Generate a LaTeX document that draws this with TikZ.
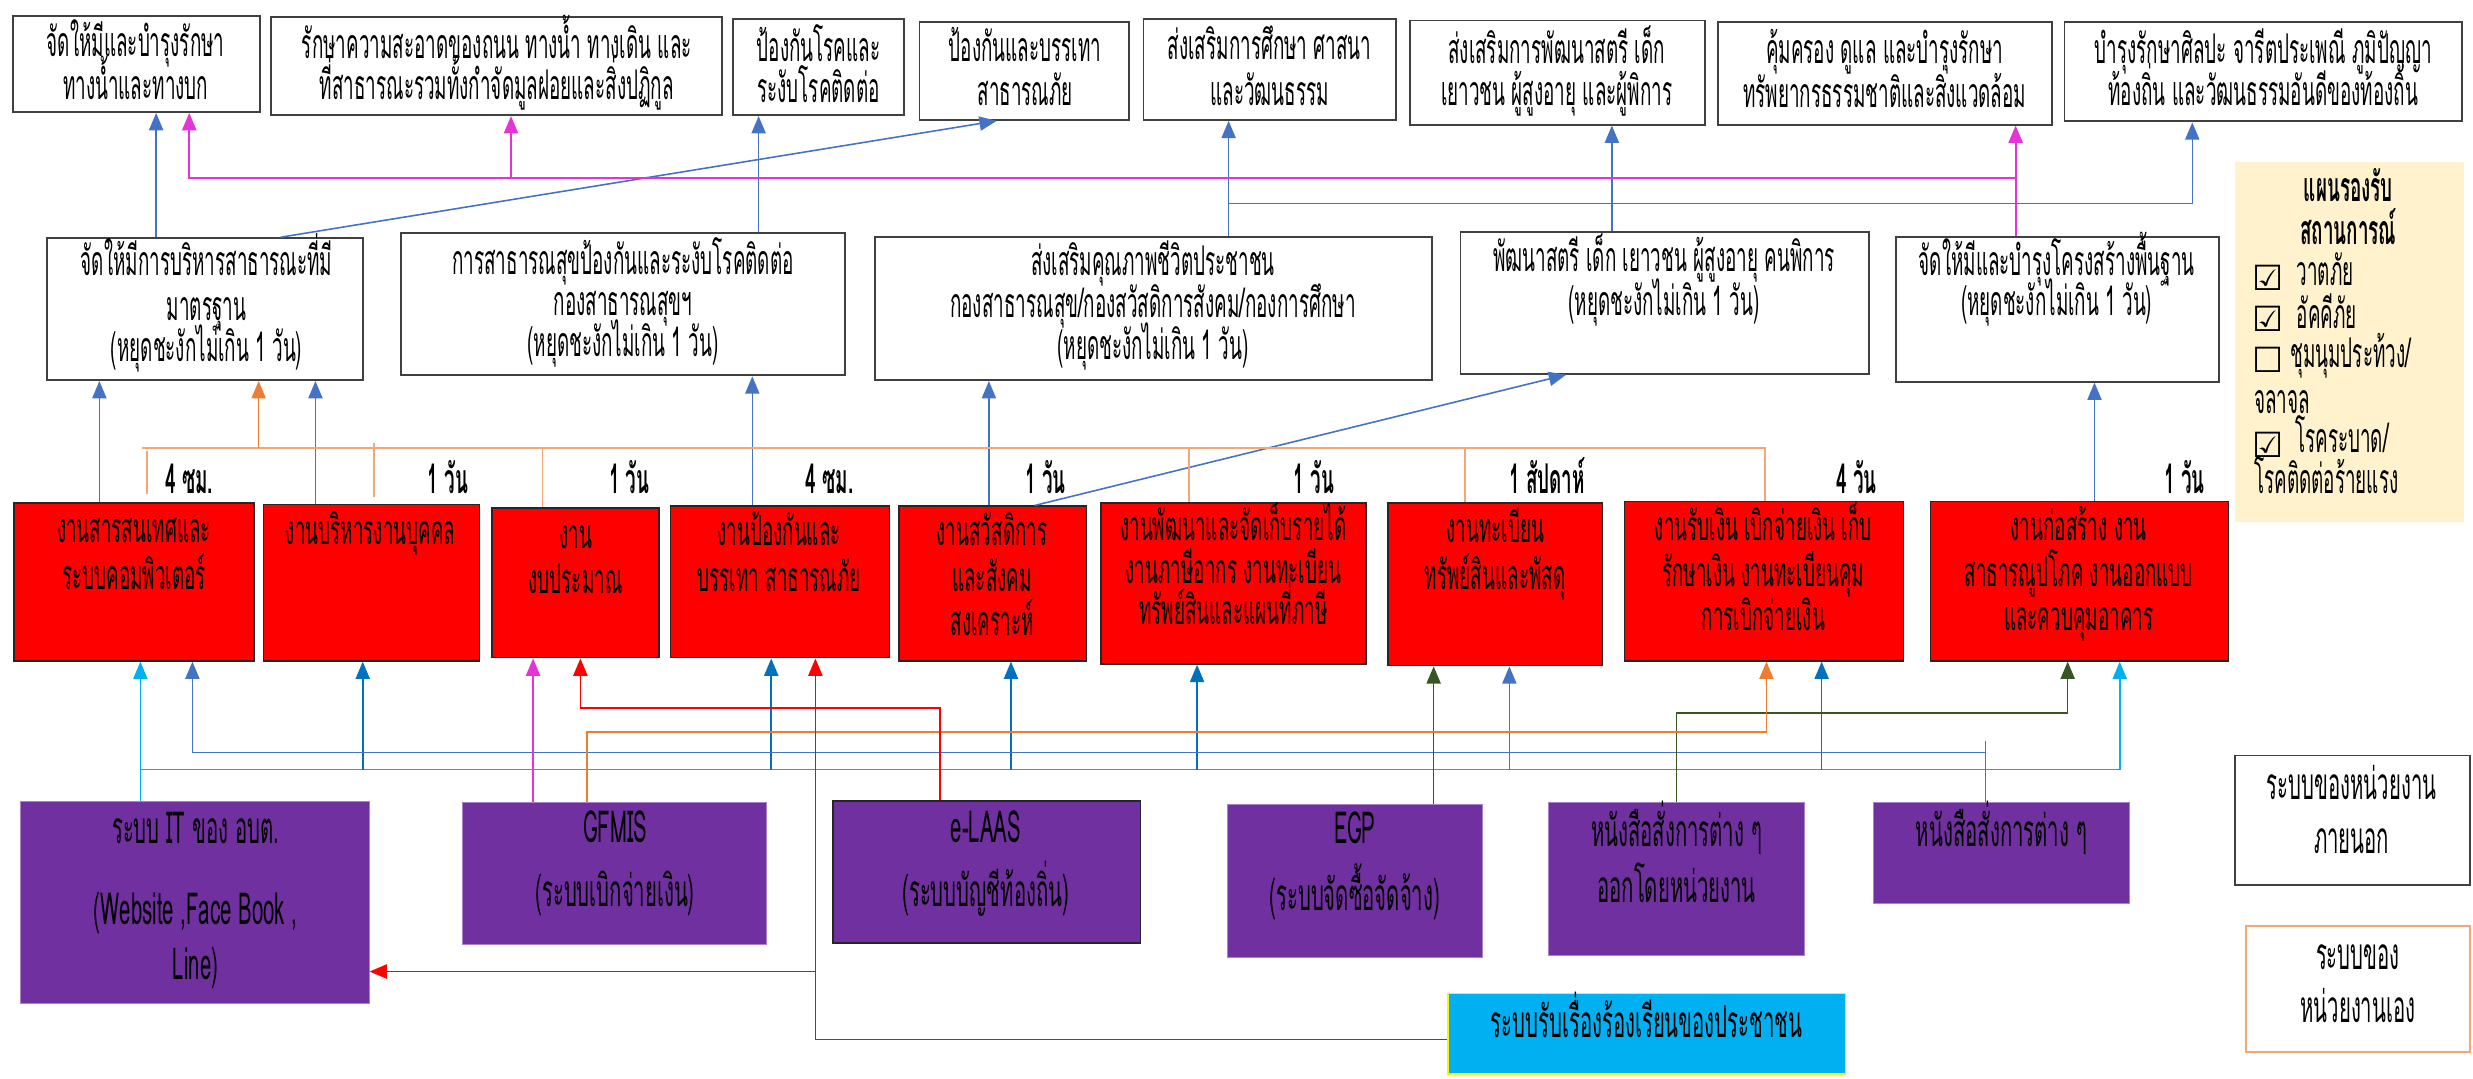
\documentclass[tikz,border=0pt]{standalone}
\usepackage{fontspec}
\newfontfamily\thai[Script=Thai,FakeStretch=0.46]{Loma}
\newfontfamily\djv{DejaVu Sans}
\usetikzlibrary{arrows.meta,fit}
\definecolor{ablue}{HTML}{4472C4}
\definecolor{dblue}{HTML}{0070C0}
\definecolor{cyanC}{HTML}{00B0F0}
\definecolor{pinkC}{HTML}{E633D6}
\definecolor{orangeL}{HTML}{F4A772}
\definecolor{orangeC}{HTML}{ED7D31}
\definecolor{oliveC}{HTML}{375623}
\definecolor{greenC}{HTML}{00B050}
\definecolor{purpleC}{HTML}{7030A0}
\definecolor{yellowC}{HTML}{FFF2CC}
\newcommand\tline[4]{\node[#1] (#2) at (#3) {#4};}
\tikzset{
  wbox/.style={draw=black!75, line width=1.2pt, inner sep=0pt},
  rbox/.style={draw=black!85, fill=red, line width=1pt, inner sep=0pt},
  pbox/.style={draw=purpleC!60!white, fill=purpleC, line width=0.6pt, inner sep=0pt},
  tx/.style={anchor=base, inner sep=0pt, font=\thai\fontsize{26}{30}\selectfont},
  txb/.style={anchor=base, inner sep=0pt, font=\thai\bfseries\fontsize{26}{30}\selectfont},
  txp/.style={anchor=base, inner sep=0pt, font=\thai\fontsize{28}{32}\selectfont},
  txl/.style={anchor=base west, inner sep=0pt, font=\thai\fontsize{26}{30}\selectfont},
  chk/.style={anchor=base west, inner sep=0pt, font=\djv\fontsize{22}{24}\selectfont},
  tip/.style={-{Triangle[length=11pt,width=9pt]}},
  barrow/.style={tip, draw=ablue, line width=1pt},
  darrow/.style={tip, draw=dblue, line width=1pt},
  carrow/.style={tip, draw=cyanC, line width=1pt},
  parrow/.style={tip, draw=pinkC, line width=1.1pt},
  oarrow/.style={tip, draw=orangeC, line width=1pt},
  rarrow/.style={tip, draw=red, line width=1pt},
  garrow/.style={tip, draw=oliveC, line width=1pt},
  oline/.style={draw=orangeL, line width=1.1pt},
  gline/.style={draw=greenC, line width=0.9pt},
}
\begin{document}
\begin{tikzpicture}[x=1pt,y=-1pt]
\useasboundingbox (0,0) rectangle (1568,684);

% ---------- top row ----------
\node[wbox, fit={(8,10) (165,71)}] (t1) {};
\node[wbox, fit={(172,11) (458,73)}] (t2) {};
\node[wbox, fit={(465,12) (573,73)}] (t3) {};
\node[wbox, fit={(583,14) (716,76)}] (t4) {};
\node[wbox, fit={(725,12) (885,76)}] (t5) {};
\node[wbox, fit={(894,13) (1081,79)}] (t6) {};
\node[wbox, fit={(1089,14) (1301,79)}] (t7) {};
\node[wbox, fit={(1309,14) (1561,77)}] (t8) {};
\tline{tx}{t1a}{86,36}{จัดให้มีและบำรุงรักษา}
\tline{tx}{t1b}{86,63}{ทางน้ำและทางบก}
\tline{tx}{t2a}{315,37}{รักษาความสะอาดของถนน ทางน้ำ ทางเดิน และ}
\tline{tx}{t2b}{315,63}{ที่สาธารณะรวมทั้งกำจัดมูลฝอยและสิ่งปฏิกูล}
\tline{tx}{t3a}{519,39}{ป้องกันโรคและ}
\tline{tx}{t3b}{519,65}{ระงับโรคติดต่อ}
\tline{tx}{t4a}{650,39}{ป้องกันและบรรเทา}
\tline{tx}{t4b}{650,67}{สาธารณภัย}
\tline{tx}{t5a}{805,38}{ส่งเสริมการศึกษา ศาสนา}
\tline{tx}{t5b}{805,67}{และวัฒนธรรม}
\tline{tx}{t6a}{987,40}{ส่งเสริมการพัฒนาสตรี เด็ก}
\tline{tx}{t6b}{987,67}{เยาวชน ผู้สูงอายุ และผู้พิการ}
\tline{tx}{t7a}{1195,40}{คุ้มครอง ดูแล และบำรุงรักษา}
\tline{tx}{t7b}{1195,68}{ทรัพยากรธรรมชาติและสิ่งแวดล้อม}
\tline{tx}{t8a}{1435,40}{บำรุงรักษาศิลปะ จารีตประเพณี ภูมิปัญญา}
\tline{tx}{t8b}{1435,67}{ท้องถิ่น และวัฒนธรรมอันดีของท้องถิ่น}

% ---------- legend (yellow) ----------
\node[fill=yellowC, inner sep=0pt, fit={(1417,103) (1562,331)}] (lg) {};
\tline{txb}{lg1}{1489,128}{แผนรองรับ}
\tline{txb}{lg2}{1489,155}{สถานการณ์}
\tline{chk}{c1}{1428,184}{☑}
\tline{txl}{lg3}{1456,181}{วาตภัย}
\tline{chk}{c2}{1428,210}{☑}
\tline{txl}{lg4}{1456,208}{อัคคีภัย}
\tline{chk}{c3}{1428,236}{☐}
\tline{txl}{lg5}{1452,233}{ชุมนุมประท้วง/}
\tline{txl}{lg6}{1429,262}{จลาจล}
\tline{chk}{c4}{1428,290}{☑}
\tline{txl}{lg7}{1455,287}{โรคระบาด/}
\tline{txl}{lg8}{1429,313}{โรคติดต่อร้ายแรง}

% ---------- middle row ----------
\node[wbox, fit={(30,151) (230,241)}] (m1) {};
\node[wbox, fit={(254,148) (536,238)}] (m2) {};
\node[wbox, fit={(555,150) (908,241)}] (m3) {};
\node[wbox, fit={(926,147) (1185,237)}] (m4) {};
\node[wbox, fit={(1202,150) (1407,242)}] (m5) {};
\tline{tx}{m1a}{131,175}{จัดให้มีการบริหารสาธารณะที่มี}
\tline{tx}{m1b}{131,203}{มาตรฐาน}
\tline{tx}{m1c}{131,229}{(หยุดชะงักไม่เกิน 1 วัน)}
\tline{tx}{m2a}{395,174}{การสาธารณสุขป้องกันและระงับโรคติดต่อ}
\tline{tx}{m2b}{395,200}{กองสาธารณสุขฯ}
\tline{tx}{m2c}{395,226}{(หยุดชะงักไม่เกิน 1 วัน)}
\tline{tx}{m3a}{731,175}{ส่งเสริมคุณภาพชีวิตประชาชน}
\tline{tx}{m3b}{731,201}{กองสาธารณสุข/กองสวัสดิการสังคม/กองการศึกษา}
\tline{tx}{m3c}{731,228}{(หยุดชะงักไม่เกิน 1 วัน)}
\tline{tx}{m4a}{1055,172}{พัฒนาสตรี เด็ก เยาวชน ผู้สูงอายุ คนพิการ}
\tline{tx}{m4b}{1055,200}{(หยุดชะงักไม่เกิน 1 วัน)}
\tline{tx}{m5a}{1304,175}{จัดให้มีและบำรุงโครงสร้างพื้นฐาน}
\tline{tx}{m5b}{1304,200}{(หยุดชะงักไม่เกิน 1 วัน)}

% ---------- red row ----------
\node[rbox, fit={(9,319) (161,419)}] (r1) {};
\node[rbox, fit={(167,320) (304,419)}] (r2) {};
\node[rbox, fit={(312,322) (418,417)}] (r3) {};
\node[rbox, fit={(425,321) (564,417)}] (r4) {};
\node[rbox, fit={(570,321) (689,419)}] (r5) {};
\node[rbox, fit={(698,319) (866,421)}] (r6) {};
\node[rbox, fit={(880,319) (1016,422)}] (r7) {};
\node[rbox, fit={(1030,318) (1207,419)}] (r8) {};
\node[rbox, fit={(1224,318) (1413,419)}] (r9) {};
\tline{tx}{r1a}{85,344}{งานสารสนเทศและ}
\tline{tx}{r1b}{85,374}{ระบบคอมพิวเตอร์}
\tline{tx}{r2a}{235,345}{งานบริหารงานบุคคล}
\tline{tx}{r3a}{365,348}{งาน}
\tline{tx}{r3b}{365,376}{งบประมาณ}
\tline{tx}{r4a}{494,346}{งานป้องกันและ}
\tline{tx}{r4b}{494,375}{บรรเทา สาธารณภัย}
\tline{tx}{r5a}{629,346}{งานสวัสดิการ}
\tline{tx}{r5b}{629,375}{และสังคม}
\tline{tx}{r5c}{629,403}{สงเคราะห์}
\tline{tx}{r6a}{782,343}{งานพัฒนาและจัดเก็บรายได้}
\tline{tx}{r6b}{782,370}{งานภาษีอากร งานทะเบียน}
\tline{tx}{r6c}{782,396}{ทรัพย์สินและแผนที่ภาษี}
\tline{tx}{r7a}{948,344}{งานทะเบียน}
\tline{tx}{r7b}{948,374}{ทรัพย์สินและพัสดุ}
\tline{tx}{r8a}{1118,343}{งานรับเงิน เบิกจ่ายเงิน เก็บ}
\tline{tx}{r8b}{1118,372}{รักษาเงิน งานทะเบียนคุม}
\tline{tx}{r8c}{1118,400}{การเบิกจ่ายเงิน}
\tline{tx}{r9a}{1318,343}{งานก่อสร้าง งาน}
\tline{tx}{r9b}{1318,372}{สาธารณูปโภค งานออกแบบ}
\tline{tx}{r9c}{1318,400}{และควบคุมอาคาร}

% time labels
\tline{txb}{h1}{120,313}{4 ซม.}
\tline{txb}{h2}{284,313}{1 วัน}
\tline{txb}{h3}{399,313}{1 วัน}
\tline{txb}{h4}{526,313}{4 ซม.}
\tline{txb}{h5}{663,313}{1 วัน}
\tline{txb}{h6}{833,313}{1 วัน}
\tline{txb}{h7}{981,313}{1 สัปดาห์}
\tline{txb}{h8}{1177,313}{4 วัน}
\tline{txb}{h9}{1385,313}{1 วัน}

% ---------- purple row ----------
\node[pbox, fit={(13,508) (234,636)}] (p1) {};
\node[pbox, fit={(293,509) (486,599)}] (p2) {};
\node[pbox, draw=black!85, line width=1pt, fit={(528,508) (723,598)}] (p3) {};
\node[pbox, fit={(778,510) (940,607)}] (p4) {};
\node[pbox, fit={(982,509) (1144,606)}] (p5) {};
\node[pbox, fit={(1188,509) (1350,573)}] (p6) {};
\tline{txp}{p1a}{124,535}{ระบบ IT ของ อบต.}
\tline{txp}{p1b}{124,586}{(Website ,Face Book ,}
\tline{txp}{p1c}{124,621}{Line)}
\tline{txp}{p2a}{390,534}{GFMIS}
\tline{txp}{p2b}{390,575}{(ระบบเบิกจ่ายเงิน)}
\tline{txp}{p3a}{625,534}{e-LAAS}
\tline{txp}{p3b}{625,575}{(ระบบบัญชีท้องถิ่น)}
\tline{txp}{p4a}{859,535}{EGP}
\tline{txp}{p4b}{859,577}{(ระบบจัดซื้อจัดจ้าง)}
\tline{txp}{p5a}{1063,537}{หนังสือสั่งการต่าง ๆ}
\tline{txp}{p5b}{1063,572}{ออกโดยหน่วยงาน}
\tline{txp}{p6a}{1269,537}{หนังสือสั่งการต่าง ๆ}

% legend boxes
\node[wbox, fit={(1417,479) (1566,561)}] (l1) {};
\tline{txp}{l1a}{1491,507}{ระบบของหน่วยงาน}
\tline{txp}{l1b}{1491,541}{ภายนอก}
\node[wbox, draw=orangeL, fit={(1424,587) (1566,667)}] (l2) {};
\tline{txp}{l2a}{1495,615}{ระบบของ}
\tline{txp}{l2b}{1495,648}{หน่วยงานเอง}

% complaint box
\node[fill=cyanC, draw=yellow, line width=1pt, inner sep=0pt, fit={(918,630) (1170,681)}] (cy) {};
\tline{txp}{cya}{1044,658}{ระบบรับเรื่องร้องเรียนของประชาชน}

% ---------- connectors: middle -> top ----------
\draw[barrow] (m1.north -| 99,0) -- (t1.south -| 99,0);
\draw[barrow] (m1.north -| 178,0) -- (t4.south -| 632,0);
\draw[barrow] (m2.north -| 481,0) -- (t3.south -| 481,0);
\draw[barrow] (m3.north -| 779,0) -- (t5.south -| 779,0);
\coordinate (j1) at (779,129);
\draw[barrow] (j1) -| (t8.south -| 1390,0);
\draw[barrow] (m4.north -| 1022,0) -- (t6.south -| 1022,0);
\draw[parrow] (m5.north -| 1278,0) -- (t7.south -| 1278,0);
\coordinate (j2) at (1278,113);
\coordinate (j3) at (324,113);
\draw[parrow] (j2) -| (t1.south -| 120,0);
\draw[parrow] (j3) -- (t2.south -| 324,0);

% ---------- red -> middle ----------
\draw[barrow] (r1.north -| 63,0) -- (m1.south -| 63,0);
\draw[barrow] (r2.north -| 200,0) -- (m1.south -| 200,0);
\draw[barrow] (r4.north -| 477,0) -- (m2.south -| 477,0);
\draw[barrow] (r5.north -| 627,0) -- (m3.south -| 627,0);
\draw[barrow] (r5.north -| 656,0) -- (m4.south -| 993,0);
\draw[barrow] (r9.north -| 1328,0) -- (m5.south -| 1328,0);

% orange time bracket
\coordinate (o1) at (90,284);
\coordinate (o2) at (1119,284);
\draw[oline] (o1) -- (o2) -- (r8.north -| o2);
\draw[oline] (93,286) -- (93,313);
\draw[oline] (237,281) -- (237,315);
\draw[oline] (344,284) -- (r3.north -| 344,0);
\draw[oline] (754,284) -- (r6.north -| 754,0);
\draw[oline] (929,284) -- (r7.north -| 929,0);
\draw[oarrow] (164,284) -- (m1.south -| 164,0);

% ---------- bottom connectors ----------
\coordinate (c0) at (89,488);
\draw[carrow] (p1.north -| 89,0) -- (r1.south -| 89,0);
\draw[carrow] (c0) -| (r9.south -| 1344,0);
\draw[darrow] (230,488) -- (r2.south -| 230,0);
\draw[darrow] (489,488) -- (r4.south -| 489,0);
\draw[darrow] (641,488) -- (r5.south -| 641,0);
\draw[darrow] (759,488) -- (r6.south -| 759,0);
\draw[barrow] (957,488) -- (r7.south -| 957,0);
\draw[darrow] (1155,488) -- (r8.south -| 1155,0);

\coordinate (b0) at (1259,477);
\draw[gline] (p6.north -| 1259,0) -- (1259,470);
\draw[barrow] (b0) -| (r1.south -| 122,0);

\draw[garrow] (p4.north -| 909,0) -- (r7.south -| 909,0);
\draw[garrow] (p5.north -| 1063,0) |- (1311,452) -- (r9.south -| 1311,0);

\draw[oarrow] (p2.north -| 372,0) |- (1120,464) -- (r8.south -| 1120,0);
\draw[parrow] (p2.north -| 338,0) -- (r3.south -| 338,0);
\draw[rarrow] (p3.north -| 596,0) |- (368,449) -- (r3.south -| 368,0);
\draw[rarrow] (cy.west |- 0,659) -| (r4.south -| 517,0);
\coordinate (rb) at (517,616);
\draw[rarrow] (rb) -- (p1.east |- rb);
\end{tikzpicture}
\end{document}
